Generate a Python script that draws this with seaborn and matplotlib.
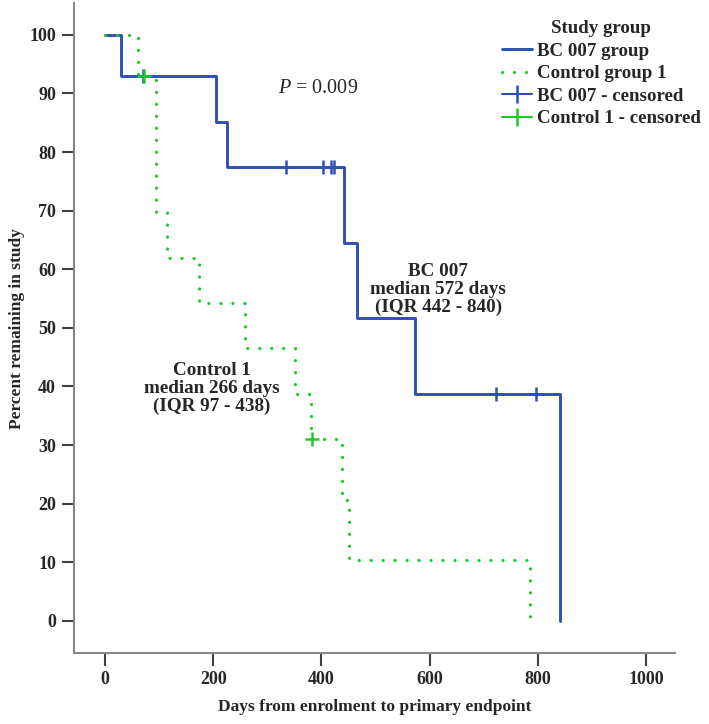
import numpy as np
import pandas as pd
import seaborn as sns
import matplotlib
matplotlib.use('Agg')
import matplotlib.pyplot as plt
from matplotlib.lines import Line2D

# Kaplan-Meier steps (days, percent remaining)
bc_days = [0, 29, 205, 226, 442, 466, 572, 840]
bc_pct = [100, 92.9, 85.1, 77.4, 64.5, 51.6, 38.7, 0]
bc_cens_days = [70, 335, 403, 418, 424, 723, 796]
bc_cens_pct = [92.9, 77.4, 77.4, 77.4, 77.4, 38.7, 38.7]

ctl_days = [0, 62, 95, 114, 174, 259, 352, 380, 438, 450, 786]
ctl_pct = [100, 92.9, 69.7, 61.9, 54.2, 46.5, 38.7, 31.0, 20.7, 10.3, 0]
ctl_cens_days = [72, 382]
ctl_cens_pct = [92.9, 31.0]

x_ticks = [0, 200, 400, 600, 800, 1000]
y_ticks = list(range(0, 101, 10))

blue = '#2f4fb5'
green = '#1fc92a'
serif = ['Liberation Serif', 'DejaVu Serif']

sns.set_style('white')
plt.rcParams['font.family'] = serif
plt.rcParams['mathtext.fontset'] = 'custom'
plt.rcParams['mathtext.it'] = 'Liberation Serif:italic'

bc = pd.DataFrame({'days': bc_days, 'pct': bc_pct})
ctl = pd.DataFrame({'days': ctl_days, 'pct': ctl_pct})

fig = plt.figure(figsize=(7.09, 7.24), dpi=100)
ax = fig.add_axes([0.1044, 0.098, 0.8476, 0.8976])

sns.lineplot(data=bc, x='days', y='pct', ax=ax, estimator=None, sort=False,
             drawstyle='steps-post', color=blue, linewidth=2.1)
sns.lineplot(data=ctl, x='days', y='pct', ax=ax, estimator=None, sort=False,
             drawstyle='steps-post', color=green, linewidth=2.3,
             linestyle=(0, (0.05, 3.7)), dash_capstyle='round')
sns.scatterplot(x=bc_cens_days, y=bc_cens_pct, ax=ax, marker='+', s=110,
                color=blue, linewidth=1.8, zorder=4)
sns.scatterplot(x=ctl_cens_days, y=ctl_cens_pct, ax=ax, marker='+', s=110,
                color=green, linewidth=1.8, zorder=5)

ax.set_xlim(-57, 1053)
ax.set_ylim(-5.5, 105.4)
ax.set_xticks(x_ticks)
ax.set_yticks(y_ticks)
ax.tick_params(axis='both', which='major', direction='out', length=9, width=1.5,
               color='#404040', labelsize=13, pad=4, bottom=True, left=True)
for lab in ax.get_xticklabels() + ax.get_yticklabels():
    lab.set_fontweight('bold')
sns.despine(ax=ax)
for s in ['left', 'bottom']:
    ax.spines[s].set_color('#888888')
    ax.spines[s].set_linewidth(1.5)

ax.set_xlabel('Days from enrolment to primary endpoint', fontsize=12.5,
              fontweight='bold', labelpad=8)
ax.set_ylabel('Percent remaining in study', fontsize=12.5,
              fontweight='bold', labelpad=3)

ax.text(394, 90.9, r'$\mathit{P}$ = 0.009', fontsize=14.5, ha='center', va='center')
ax.text(616, 56.5, 'BC 007\nmedian 572 days\n(IQR 442 - 840)', fontsize=13.8,
        fontweight='bold', ha='center', va='center', linespacing=1.08)
ax.text(197, 39.6, 'Control 1\nmedian 266 days\n(IQR 97 - 438)', fontsize=13.8,
        fontweight='bold', ha='center', va='center', linespacing=1.08)

handles = [
    Line2D([], [], color=blue, linewidth=2.1),
    Line2D([], [], color=green, linewidth=2.3, linestyle=(0, (0.05, 3.7)),
           dash_capstyle='round'),
    Line2D([], [], color=blue, linewidth=1.5, marker='|', markersize=13,
           markeredgewidth=1.8),
    Line2D([], [], color=green, linewidth=1.5, marker='|', markersize=13,
           markeredgewidth=1.8),
]
labels = ['BC 007 group', 'Control group 1', 'BC 007 - censored',
          'Control 1 - censored']
leg = fig.legend(handles, labels, title='Study group', loc='upper left',
                 bbox_to_anchor=(0.708, 0.972), frameon=False,
                 prop={'family': serif, 'weight': 'bold', 'size': 13.6},
                 title_fontproperties={'family': serif, 'weight': 'bold',
                                       'size': 13.6},
                 handlelength=1.6, handletextpad=0.25, labelspacing=0.28,
                 borderaxespad=0, borderpad=0)

fig.savefig('out.png', dpi=100)
